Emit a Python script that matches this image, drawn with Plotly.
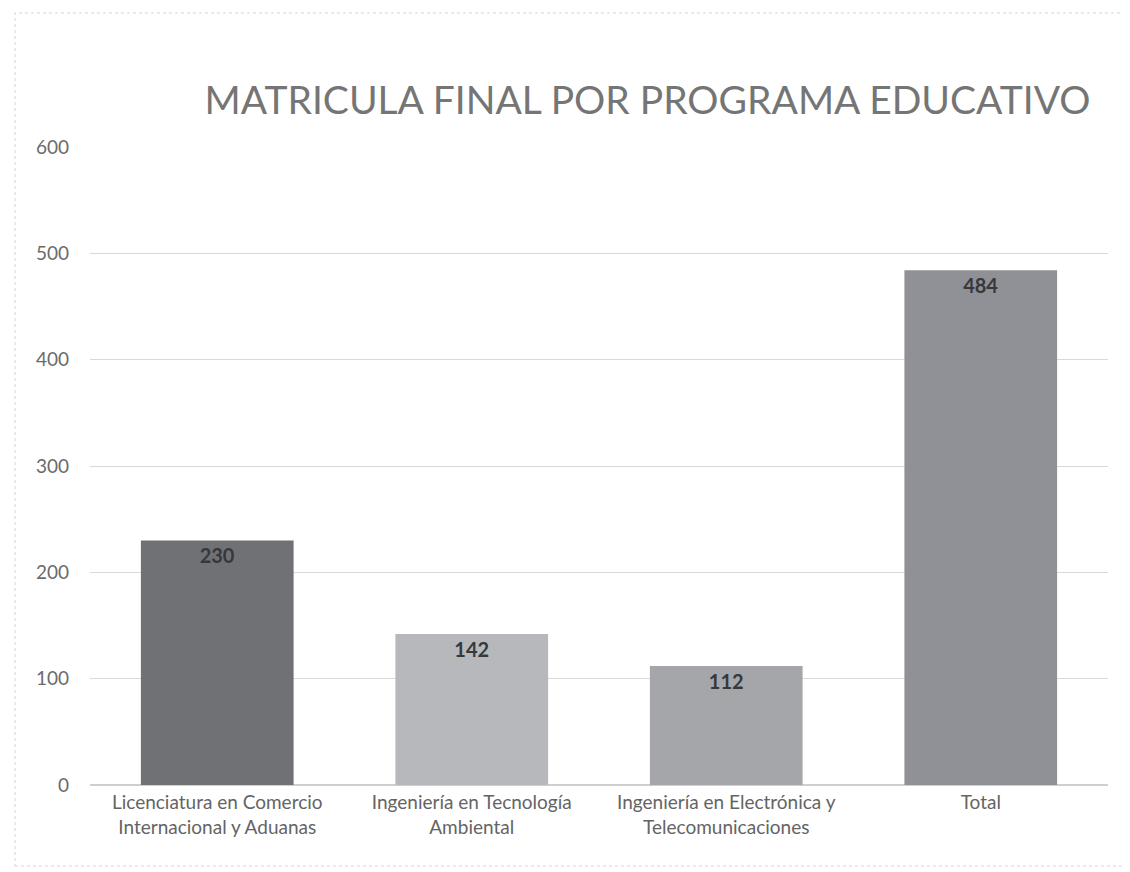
import plotly.graph_objects as go

categories = [
    "Licenciatura en Comercio<br>Internacional y Aduanas",
    "Ingeniería en Tecnología<br>Ambiental",
    "Ingeniería en Electrónica y<br>Telecomunicaciones",
    "Total",
]
values = [230, 142, 112, 484]
bar_colors = ["#707174", "#b7b8bb", "#a4a6a9", "#8f9196"]
y_ticks = [0, 100, 200, 300, 400, 500, 600]

FONT = "Lato, Open Sans, sans-serif"

L, R, T, B = 82, 30, 139, 95
W, H = 1130, 872
pw = W - L - R
ph = H - T - B

fig = go.Figure()
fig.add_trace(go.Bar(
    x=categories,
    y=values,
    marker=dict(color=bar_colors, line=dict(width=0)),
    text=[str(v) for v in values],
    textposition="inside",
    insidetextanchor="end",
    textfont=dict(family=FONT, size=20, color="#37383b"),
    texttemplate="<b>%{text}</b>",
    width=0.6,
))

fig.update_layout(
    width=W,
    height=H,
    paper_bgcolor="white",
    plot_bgcolor="white",
    margin=dict(l=L, r=R, t=T, b=B),
    title=dict(
        text="MATRICULA FINAL POR PROGRAMA EDUCATIVO",
        x=0.566, xanchor="center",
        y=0.894, yanchor="middle",
        font=dict(family=FONT, size=39, color="#757575"),
    ),
    showlegend=False,
)
fig.update_yaxes(
    range=[0, 600],
    tickvals=y_ticks,
    showgrid=True,
    gridcolor="#d9d9d9",
    gridwidth=1,
    zeroline=True,
    zerolinecolor="#cfcfcf",
    showline=False,
    tickfont=dict(family=FONT, size=19, color="#6b6b6b"),
    ticks="",
    ticklabelstandoff=20,
)
fig.update_xaxes(
    showgrid=False,
    showline=False,
    tickfont=dict(family=FONT, size=19, color="#646464"),
    ticks="",
    ticklabelstandoff=4,
)
fig.add_shape(
    type="rect", xref="paper", yref="paper",
    x0=(7 - L) / pw, x1=(1120 - L) / pw,
    y0=(H - B - 858) / ph, y1=1 + (T - 5) / ph,
    line=dict(color="#d4d4d4", width=1, dash="dot"),
)
fig.write_html("out.html")
